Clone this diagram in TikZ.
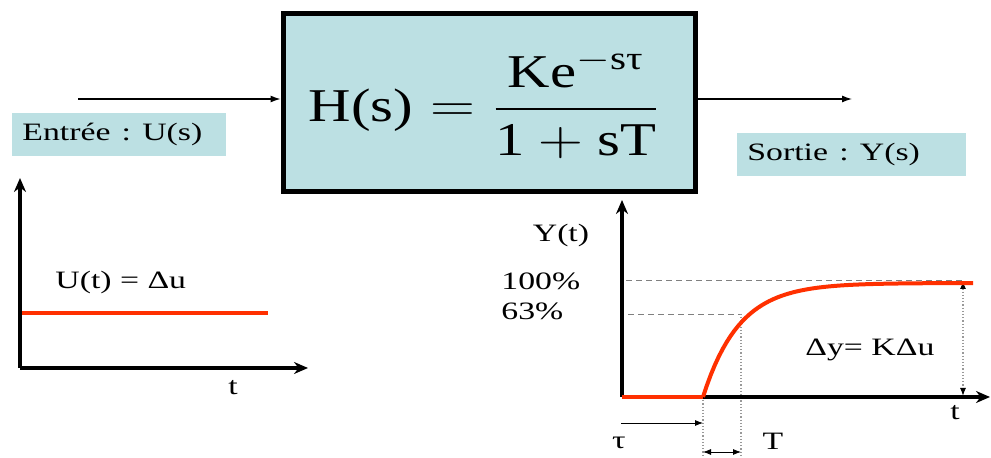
\documentclass[tikz,border=0pt]{standalone}
\usepackage{amsmath}
\usepackage{fontspec}
\usepackage{graphicx}
\setmainfont{Liberation Serif}
\frenchspacing
\usetikzlibrary{arrows.meta,positioning}
\definecolor{boxblue}{RGB}{188,224,227}
\definecolor{stepred}{RGB}{255,48,0}
\newcommand{\wide}[1]{\scalebox{1.35}[1]{#1}}

\begin{document}
\begin{tikzpicture}[x=0.5pt,y=-0.5pt,
    axis/.style={line width=1.8pt,-{Stealth[length=7pt,width=6pt]}},
    redline/.style={stepred,line width=2pt},
    guide/.style={gray,densely dashed,line width=0.4pt},
    mark line/.style={gray!80,densely dotted,line width=0.6pt},
    mtip/.tip={Latex[length=4pt,width=3pt,black]},
    tag/.style={fill=boxblue,inner sep=5pt,text width=97pt,minimum height=17.5pt,font=\fontsize{12.5}{14}\selectfont},
    lbl/.style={inner sep=0pt,font=\fontsize{12.5}{14}\selectfont}
]
\useasboundingbox (0,0) rectangle (991,458);

% bloc H(s)
\node[
    draw,
    line width=2.5pt,
    fill=boxblue,
    minimum width=206pt,
    minimum height=89pt,
    inner sep=0pt
] (hbox) at (489,103) {};
\node[inner sep=0pt] (hs) at (484,104) {%
\fontsize{23.5}{28}\selectfont\scalebox{1.25}[1]{$\text{H(s)} = \dfrac{\text{Ke}^{-\text{sτ}}}{\text{1}+\text{sT}}$}};

\coordinate (in) at (78,99);
\coordinate (out) at (852,99);
\draw[-{Latex[length=5pt,width=3.5pt]},line width=0.6pt] (in) -- (in -| hbox.west);
\draw[-{Latex[length=5pt,width=3.5pt]},line width=0.6pt] (hbox.east |- out) -- (out);

\node[tag,anchor=north west] (entree) at (12,113) {\wide{Entrée : U(s)}};
\node[tag,anchor=north west,text width=104.5pt] (sortie) at (737,133) {\wide{Sortie : Y(s)}};

% echelon en entree
\coordinate (uO) at (20,368);
\coordinate (uY) at (20,178);
\coordinate (uX) at (308,368);
\draw[axis] (uO) -- (uY);
\draw[axis] (uO) -- (uX);
\coordinate (u1) at (22,313);
\coordinate (u2) at (268,313);
\draw[redline] (u1) -- (u2);
\node[lbl,anchor=west] (ut) at (55,282) {\wide{U(t) = Δu}};
\node[lbl] (tu) at (233,388) {\wide{t}};

% reponse
\coordinate (yO) at (622,397);
\coordinate (yY) at (622,200);
\coordinate (yX) at (990,397);
\coordinate (tau) at (703,397);
\coordinate (p63) at (741,314);
\draw[guide] (626,280) -- (963,280);
\draw[guide] (628,314) -- (p63);
\draw[mark line] (tau) -- (703,458);
\draw[mark line] (p63) -- (741,458);
\draw[mark line,mtip-mtip] (963,281) -- (963,396);
\draw[axis] (yO) -- (yY);
\draw[axis] (yO) -- (yX);
\draw[redline] (yO) -- (tau);
\draw[redline] plot[domain=703:973,samples=70] (\x,{397-114*(1-exp(-(\x-703)/36))});

\node[lbl] (yt) at (561,235) {\wide{Y(t)}};
\node[lbl,anchor=west] (cent) at (501,281) {\wide{100\%}};
\node[lbl,anchor=west] (soixante) at (501,311) {\wide{63\%}};
\node[lbl,anchor=west] (dy) at (805,350) {\wide{Δy= KΔu}};
\node[lbl] (ty) at (955,413) {\wide{t}};

\coordinate (r0) at (621,423);
\draw[-mtip,line width=0.4pt] (r0) -- (r0 -| tau);
\coordinate (tT) at (703,452);
\draw[mtip-mtip,line width=0.4pt] (tT) -- (tT -| p63);
\node[lbl] (tlbl) at (773,441) {\wide{T}};
\node[lbl] (taulbl) at (619,443) {\wide{τ}};
\end{tikzpicture}
\end{document}
